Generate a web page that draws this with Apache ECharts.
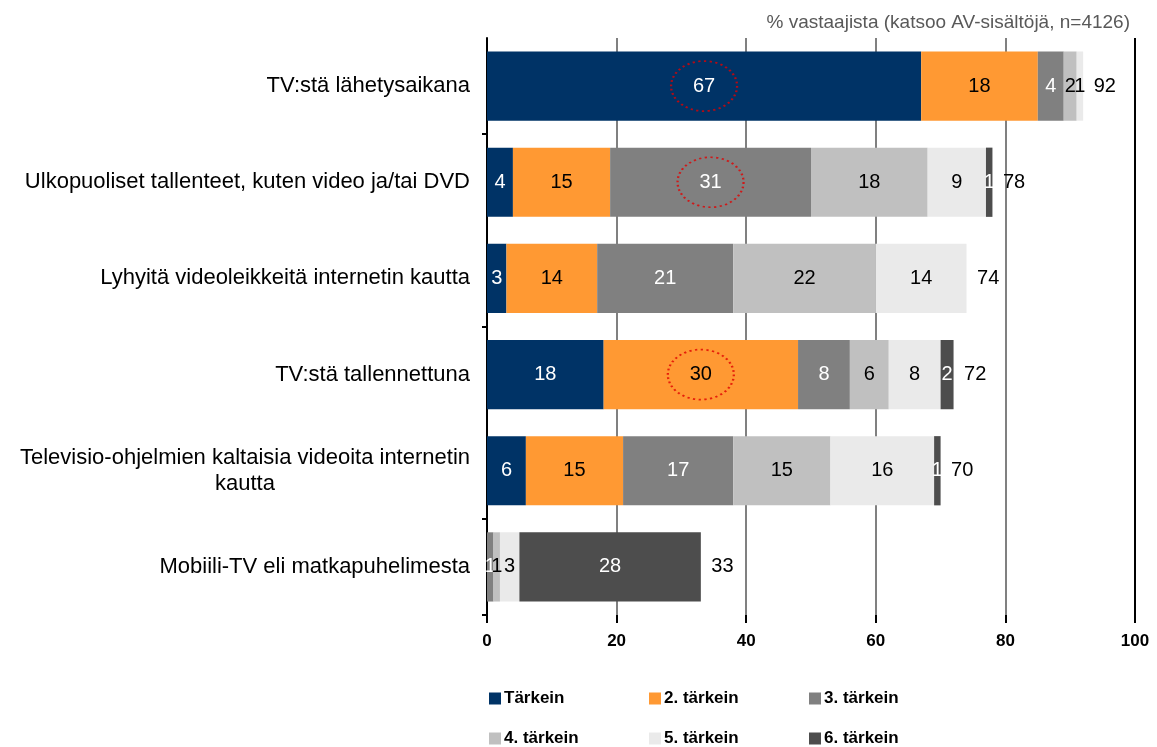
<!DOCTYPE html>
<html>
<head>
<meta charset="utf-8">
<script src="https://cdn.jsdelivr.net/npm/echarts@6/dist/echarts.min.js"></script>
<style>
  html, body { margin: 0; padding: 0; background: #fff; }
  #chart { width: 1157px; height: 747px; }
</style>
</head>
<body>
<div id="chart"></div>
<script>
// rivit ylhäältä alas
var categories = [
    'TV:stä lähetysaikana',
    'Ulkopuoliset tallenteet, kuten video ja/tai DVD',
    'Lyhyitä videoleikkeitä internetin kautta',
    'TV:stä tallennettuna',
    'Televisio-ohjelmien kaltaisia videoita internetin\nkautta',
    'Mobiili-TV eli matkapuhelimesta'
];
var seriesNames = ['Tärkein', '2. tärkein', '3. tärkein', '4. tärkein', '5. tärkein', '6. tärkein'];
var tarkein   = [67, 4, 3, 18, 6, 0];
var tarkein2  = [18, 15, 14, 30, 15, 0];
var tarkein3  = [4, 31, 21, 8, 17, 1];
var tarkein4  = [2, 18, 22, 6, 15, 1];
var tarkein5  = [1, 9, 14, 8, 16, 3];
var tarkein6  = [0, 1, 0, 2, 1, 28];
var totals    = [92, 78, 74, 72, 70, 33];
var xTicks    = [0, 20, 40, 60, 80, 100];
// ympyröidyt solut: [rivi, sarja]
var circled   = [[0, 0], [1, 2], [3, 1]];

var colors = ['#003366', '#FF9933', '#808080', '#C0C0C0', '#EAEAEA', '#4D4D4D'];
var labelColors = ['#fff', '#000', '#fff', '#000', '#000', '#fff'];
var values = [tarkein, tarkein2, tarkein3, tarkein4, tarkein5, tarkein6];

var myChart = echarts.init(document.getElementById('chart'));

var series = [];
values.forEach(function (arr, s) {
    series.push({
        name: seriesNames[s],
        type: 'bar',
        stack: 'total',
        barCategoryGap: '28%',
        itemStyle: { color: colors[s] },
        label: {
            show: true,
            position: 'inside',
            color: labelColors[s],
            fontFamily: 'Liberation Sans',
            fontSize: 20,
            formatter: function (p) { return p.value ? p.value : ''; }
        },
        data: arr
    });
});

// summat palkkien perään
series.push({
    type: 'scatter',
    symbolSize: 1,
    itemStyle: { color: 'rgba(255,255,255,0)' },
    silent: true,
    emphasis: { disabled: true },
    label: {
        show: true,
        position: 'right',
        distance: 10,
        color: '#000000',
        opacity: 1,
        fontFamily: 'Liberation Sans',
        fontSize: 20,
        formatter: function (p) { return p.value[0]; }
    },
    data: totals.map(function (t, i) { return [t, i]; }),
    z: 5
});

// punaiset katkoviivaellipsit
var circleData = circled.map(function (c) {
    var row = c[0], s = c[1], start = 0;
    for (var k = 0; k < s; k++) start += values[k][row];
    return [start + values[s][row] / 2, row];
});
series.push({
    type: 'scatter',
    symbol: 'circle',
    symbolSize: [66, 50],
    silent: true,
    itemStyle: {
        color: 'transparent',
        borderColor: '#E00000',
        borderWidth: 2,
        borderType: [2, 3]
    },
    data: circleData,
    z: 10
});

// legenda 2 riviä x 3 saraketta
var legends = seriesNames.map(function (name, i) {
    return {
        left: 484 + (i % 3) * 160,
        top: 685 + Math.floor(i / 3) * 40,
        data: [name],
        itemWidth: 12,
        itemHeight: 12,
        itemGap: 4,
        icon: 'rect',
        selectedMode: false,
        textStyle: {
            fontFamily: 'Liberation Sans',
            fontSize: 17,
            fontWeight: 'bold',
            color: '#000',
            padding: [0, 0, 0, -2]
        }
    };
});

var option = {
    animation: false,
    title: {
        text: '% vastaajista (katsoo AV-sisältöjä, n=4126)',
        right: 22,
        top: 8,
        textStyle: {
            fontFamily: 'Liberation Sans',
            fontSize: 19,
            fontWeight: 'normal',
            color: '#595959'
        }
    },
    legend: legends,
    grid: {
        left: 487,
        right: 22,
        top: 38,
        bottom: 132
    },
    xAxis: {
        type: 'value',
        min: xTicks[0],
        max: xTicks[xTicks.length - 1],
        interval: 20,
        axisLine: { show: false },
        axisTick: { show: true, length: 8, lineStyle: { color: '#000', width: 2 } },
        axisLabel: {
            margin: 18,
            fontFamily: 'Liberation Sans',
            fontSize: 17,
            fontWeight: 'bold',
            color: '#000'
        },
        splitLine: {
            show: true,
            lineStyle: {
                color: ['#000', '#808080', '#808080', '#808080', '#808080', '#000'],
                width: 2
            }
        }
    },
    yAxis: {
        type: 'category',
        inverse: true,
        data: categories,
        axisLine: { show: true, lineStyle: { color: '#000', width: 2 } },
        axisTick: {
            show: true,
            length: 5,
            lineStyle: { color: '#000', width: 2 },
            interval: function (i) { return i % 2 === 1; }
        },
        axisLabel: {
            margin: 17,
            fontFamily: 'Liberation Sans',
            fontSize: 22,
            lineHeight: 26,
            color: '#000',
            formatter: function (v) {
                var parts = v.split('\n');
                if (parts.length === 1) return v;
                return parts.map(function (p) { return '{c|' + p + '}'; }).join('\n');
            },
            rich: {
                c: { align: 'center', fontFamily: 'Liberation Sans', fontSize: 22, lineHeight: 26, color: '#000' }
            }
        }
    },
    series: series
};

myChart.setOption(option);
</script>
</body>
</html>
